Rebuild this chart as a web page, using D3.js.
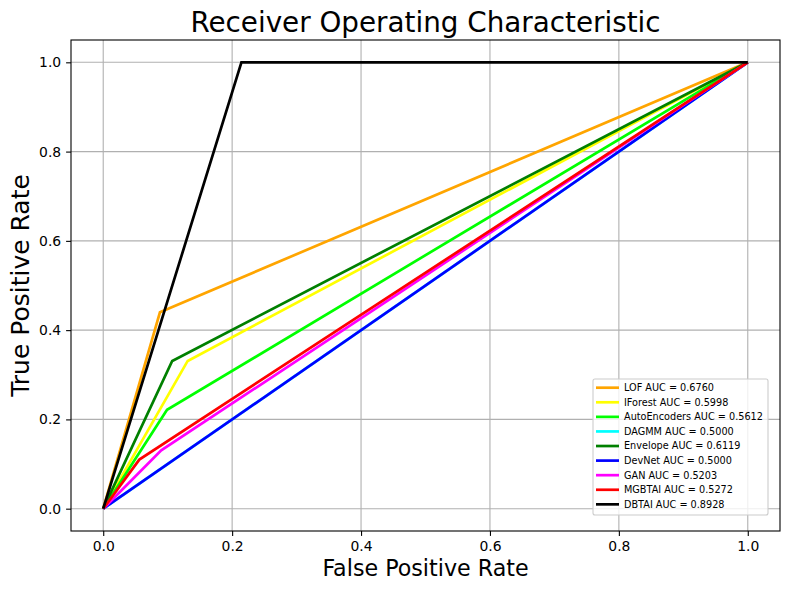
<!DOCTYPE html>
<html><head><meta charset="utf-8">
<script src="https://cdn.jsdelivr.net/npm/d3@7"></script>
<style>body{margin:0;background:#fff;} svg{display:block;font-family:"DejaVu Sans",sans-serif;}</style>
</head><body><svg id="c" width="789" height="590"></svg>
<script>
const names = ["LOF","IForest","AutoEncoders","DAGMM","Envelope","DevNet","GAN","MGBTAI","DBTAI"];
const aucs = ["0.6760","0.5998","0.5612","0.5000","0.6119","0.5000","0.5203","0.5272","0.8928"];
const colors = ["orange","yellow","lime","cyan","green","blue","magenta","red","black"];
const fprs = [[0,0.088,1],[0,0.131,1],[0,0.099,1],[0,1],[0,0.107,1],[0,1],[0,0.090,1],[0,0.056,1],[0,0.2144,1]];
const tprs = [[0,0.440,1],[0,0.331,1],[0,0.2214,1],[0,1],[0,0.331,1],[0,1],[0,0.1306,1],[0,0.110,1],[0,1,1]];
const ticks = [0,0.2,0.4,0.6,0.8,1.0];

const svg = d3.select("#c");
const L=71,R=780,T=40,B=531;
const x = d3.scaleLinear().domain([-0.05,1.05]).range([L,R]);
const y = d3.scaleLinear().domain([-0.05,1.05]).range([B,T]);

// grid
const g = svg.append("g");
ticks.forEach(t=>{
  g.append("line").attr("x1",x(t)).attr("x2",x(t)).attr("y1",T).attr("y2",B).attr("stroke","#b0b0b0").attr("stroke-width",1.1);
  g.append("line").attr("y1",y(t)).attr("y2",y(t)).attr("x1",L).attr("x2",R).attr("stroke","#b0b0b0").attr("stroke-width",1.1);
});

// lines
const line = d3.line().x(d=>x(d[0])).y(d=>y(d[1]));
names.forEach((n,i)=>{
  const pts = fprs[i].map((f,j)=>[f,tprs[i][j]]);
  svg.append("path").attr("d",line(pts)).attr("fill","none").attr("stroke",colors[i]).attr("stroke-width",2.7).attr("stroke-linejoin","miter");
});

// axes
const xa = svg.append("g").attr("transform",`translate(0,${B})`).call(d3.axisBottom(x).tickValues(ticks).tickFormat(d3.format(".1f")).tickSize(4.9).tickPadding(4.9));
const ya = svg.append("g").attr("transform",`translate(${L},0)`).call(d3.axisLeft(y).tickValues(ticks).tickFormat(d3.format(".1f")).tickSize(4.9).tickPadding(4.9));
[xa,ya].forEach(a=>{a.select(".domain").remove(); a.selectAll("text").attr("font-size",13.9).attr("fill","#000").attr("font-family","DejaVu Sans"); a.selectAll("line").attr("stroke","#000").attr("stroke-width",1.1);});
svg.append("rect").attr("x",L).attr("y",T).attr("width",R-L).attr("height",B-T).attr("fill","none").attr("stroke","#000").attr("stroke-width",1.1);

// title & labels
svg.append("text").attr("x",(L+R)/2).attr("y",32).attr("text-anchor","middle").attr("font-size",27.8).text("Receiver Operating Characteristic");
svg.append("text").attr("x",(L+R)/2).attr("y",576).attr("text-anchor","middle").attr("font-size",22.2).text("False Positive Rate");
svg.append("text").attr("transform",`translate(29,${(T+B)/2}) rotate(-90)`).attr("text-anchor","middle").attr("font-size",25).text("True Positive Rate");

// legend
const lx=593, ly=379, lw=175, lh=136;
svg.append("rect").attr("x",lx).attr("y",ly).attr("width",lw).attr("height",lh).attr("rx",2).attr("fill","#fff").attr("fill-opacity",0.8).attr("stroke","#ccc").attr("stroke-width",1.1);
names.forEach((n,i)=>{
  const yy = ly+8.7+i*14.58;
  svg.append("line").attr("x1",lx+3).attr("x2",lx+26).attr("y1",yy).attr("y2",yy).attr("stroke",colors[i]).attr("stroke-width",2.7);
  svg.append("text").attr("x",lx+31).attr("y",yy+3.4).attr("font-size",9.7).text(`${n} AUC = ${aucs[i]}`);
});
</script></body></html>
